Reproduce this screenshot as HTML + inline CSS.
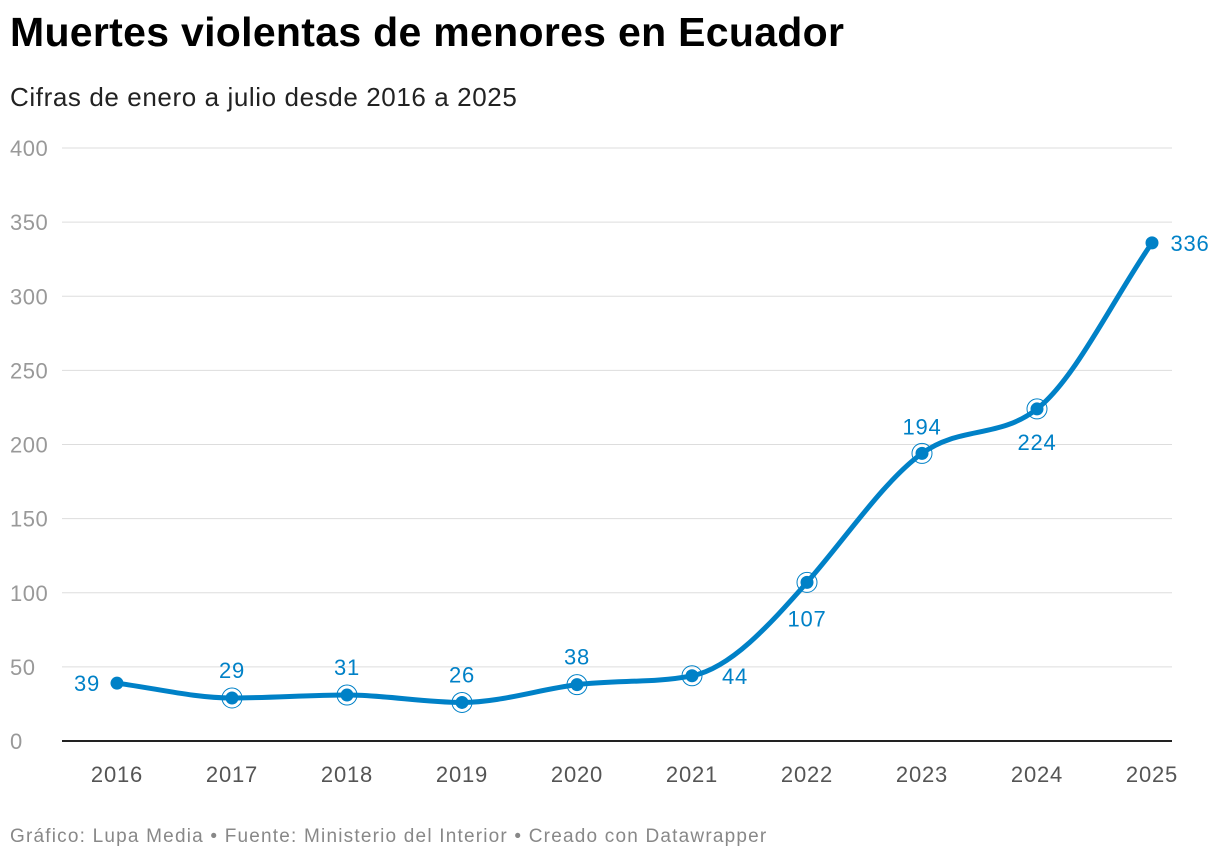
<!DOCTYPE html>
<html><head><meta charset="utf-8"><style>
body{margin:0;background:#fff;font-family:"Liberation Sans",sans-serif;}
#wrap{position:relative;width:1220px;height:864px;}
h1{position:absolute;left:10px;top:9px;margin:0;font-size:41px;font-weight:bold;color:#000;letter-spacing:0.3px}
.sub{position:absolute;left:10px;top:82px;font-size:26px;color:#222;letter-spacing:0.6px}
.foot{position:absolute;left:10px;top:826px;font-size:19px;color:#888;letter-spacing:1.2px}
</style></head><body>
<div id="wrap">
<h1>Muertes violentas de menores en Ecuador</h1>
<div class="sub">Cifras de enero a julio desde 2016 a 2025</div>
<svg id="c" width="1220" height="864" style="position:absolute;left:0;top:0"></svg>
<div class="foot">Gráfico: Lupa Media • Fuente: Ministerio del Interior • Creado con Datawrapper</div>
</div>
<script>
const years=["2016","2017","2018","2019","2020","2021","2022","2023","2024","2025"];
const values=[39,29,31,26,38,44,107,194,224,336];
const yTicks=[0,50,100,150,200,250,300,350,400];
const ns="http://www.w3.org/2000/svg",svg=document.getElementById('c');
const x=i=>117+i*115, y=v=>741-v*593/400;
function mk(t,a,p){const e=document.createElementNS(ns,t);for(const k in a)e.setAttribute(k,a[k]);(p||svg).appendChild(e);return e;}
yTicks.forEach(t=>{
 if(t>0){const l=mk('line',{x1:62,x2:1172,y1:y(t),y2:y(t),stroke:'#ddd','stroke-width':1});
 
 }
 const tx=mk('text',{x:10,y:y(t)+8,'font-size':22,fill:'#999','letter-spacing':0.5});tx.textContent=t;
 
 
});
const ax=mk('line',{x1:62,x2:1172,y1:741,y2:741,stroke:'#222','stroke-width':2});


years.forEach((yr,i)=>{const t=mk('text',{x:x(i),y:782,'font-size':22,fill:'#555','text-anchor':'middle','letter-spacing':0.8});t.textContent=yr;
 
 });
const n=values.length,px=values.map((v,i)=>x(i)),py=values.map(v=>y(v));
const d=[],m=[];for(let i=0;i<n-1;i++)d.push((py[i+1]-py[i])/(px[i+1]-px[i]));
for(let i=0;i<n;i++){if(i==0)m.push(d[0]);else if(i==n-1)m.push(d[n-2]);else m.push(d[i-1]*d[i]<=0?0:3*(d[i-1]+d[i])/(3+ (d[i-1]/d[i]+d[i]/d[i-1])) );}
let p='M'+px[0]+','+py[0];
for(let i=0;i<n-1;i++){const h=(px[i+1]-px[i])/3;p+=` C${px[i]+h},${py[i]+m[i]*h} ${px[i+1]-h},${py[i+1]-m[i+1]*h} ${px[i+1]},${py[i+1]}`;}
const ln=mk('path',{d:p,fill:'none',stroke:'#0081c7','stroke-width':5,'stroke-linecap':'round'});


const off=[[-30,8],[0,-20],[0,-20],[0,-20],[0,-20],[43,8],[0,44],[0,-19],[0,41],[38,8]];
values.forEach((v,i)=>{
 if(i>0&&i<n-1){const r=mk('circle',{cx:px[i],cy:py[i],r:10,fill:'none',stroke:'#0081c7','stroke-width':1});
 
 }
 const c=mk('circle',{cx:px[i],cy:py[i],r:6.5,fill:'#0081c7'});
 
 
 const t=mk('text',{x:px[i]+off[i][0],y:py[i]+off[i][1],'font-size':22,fill:'#0081c7','text-anchor':'middle','letter-spacing':0.8});t.textContent=v;
 
 
});
</script>
</body></html>
